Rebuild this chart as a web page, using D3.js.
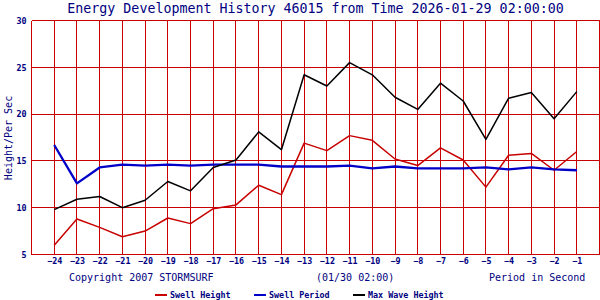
<!DOCTYPE html>
<html>
<head>
<meta charset="utf-8">
<script src="https://cdn.jsdelivr.net/npm/d3@7"></script>
<style>
  html, body { margin: 0; padding: 0; background: #fff; }
  text { font-family: "DejaVu Sans Mono", "Liberation Mono", monospace; fill: #000080; }
</style>
</head>
<body>
<div id="chart"></div>
<script>
// Data

const hours = [-24, -23, -22, -21, -20, -19, -18, -17, -16, -15, -14, -13, -12, -11, -10, -9, -8, -7, -6, -5, -4, -3, -2, -1]
const swellHeight = [6.0, 8.8, 7.9, 6.9, 7.5, 8.9, 8.3, 9.9, 10.3, 12.4, 11.4, 16.9, 16.1, 17.7, 17.2, 15.2, 14.5, 16.4, 15.1, 12.2, 15.6, 15.8, 14.0, 16.0]
const swellPeriod = [16.7, 12.6, 14.3, 14.6, 14.5, 14.6, 14.5, 14.6, 14.6, 14.6, 14.4, 14.4, 14.4, 14.5, 14.2, 14.4, 14.2, 14.2, 14.2, 14.3, 14.1, 14.3, 14.1, 14.0]
const maxWaveHeight = [9.8, 10.9, 11.2, 10.0, 10.8, 12.8, 11.8, 14.3, 15.1, 18.1, 16.2, 24.2, 23.0, 25.5, 24.2, 21.8, 20.5, 23.3, 21.4, 17.3, 21.7, 22.3, 19.5, 22.4]
const yTicks = [5, 10, 15, 20, 25, 30]

const series = [
  { name: 'Swell Height', values: swellHeight, color: '#c80000', width: 1.5 },
  { name: 'Swell Period', values: swellPeriod, color: '#0000c8', width: 2.3 },
  { name: 'Max Wave Height', values: maxWaveHeight, color: '#000000', width: 1.5 },
]

const W = 600
const H = 300
const GRID = '#c80000'

const x = d3.scaleLinear().domain([-25, 0]).range([31.5, 599.5])
const y = d3.scaleLinear().domain([5, 30]).range([254.5, 20.5])

// Container

const svg = d3.select('#chart').append('svg').attr('width', W).attr('height', H)

svg.append('rect').attr('width', W).attr('height', H).attr('fill', '#fff')

// Grid

const grid = svg.append('g').attr('shape-rendering', 'crispEdges')

grid
  .selectAll('line.v')
  .data(x.ticks(25))
  .join('line')
  .attr('class', 'v')
  .attr('x1', (d) => Math.round(x(d) - 0.5) + 0.5)
  .attr('x2', (d) => Math.round(x(d) - 0.5) + 0.5)
  .attr('y1', y(30))
  .attr('y2', y(5))
  .attr('stroke', GRID)

grid
  .selectAll('line.h')
  .data(yTicks)
  .join('line')
  .attr('class', 'h')
  .attr('x1', x(-25))
  .attr('x2', x(0))
  .attr('y1', (d) => Math.round(y(d) - 0.5) + 0.5)
  .attr('y2', (d) => Math.round(y(d) - 0.5) + 0.5)
  .attr('stroke', GRID)

// Axis labels

const axisBot = svg
  .append('g')
  .attr('transform', `translate(0,${y(5)})`)
  .call(d3.axisBottom(x).tickValues(hours).tickSize(0).tickPadding(4))

const axisLeft = svg
  .append('g')
  .attr('transform', `translate(${x(-25)},0)`)
  .call(d3.axisLeft(y).tickValues(yTicks).tickSize(0).tickPadding(5))

for (const axis of [axisBot, axisLeft]) {
  axis.select('.domain').remove()
  axis.attr('font-family', null).attr('font-size', null)
  axis.selectAll('text').attr('font-size', '8.4px').attr('fill', '#000080').attr('font-weight', 'bold')
}

// Lines

const line = (values) =>
  d3
    .line()
    .x((d, i) => x(hours[i]))
    .y((d) => y(d))(values)

svg
  .append('g')
  .selectAll('path')
  .data(series)
  .join('path')
  .attr('d', (d) => line(d.values))
  .attr('fill', 'none')
  .attr('stroke', (d) => d.color)
  .attr('stroke-width', (d) => d.width)
  .attr('stroke-linejoin', 'round')

// Texts

svg
  .append('text')
  .attr('x', 315.5)
  .attr('y', 13)
  .attr('text-anchor', 'middle')
  .attr('font-size', '13.3px')
  .text('Energy Development History 46015 from Time 2026-01-29 02:00:00')

svg
  .append('text')
  .attr('transform', 'translate(11.5,138) rotate(-90)')
  .attr('text-anchor', 'middle')
  .attr('font-size', '10px')
  .text('Height/Per Sec')

const footer = [
  { text: 'Copyright 2007 STORMSURF', at: 69 },
  { text: '(01/30 02:00)', at: 316 },
  { text: 'Period in Second', at: 489 },
]

svg
  .append('g')
  .selectAll('text')
  .data(footer)
  .join('text')
  .attr('x', (d) => d.at)
  .attr('y', 281)
  .attr('font-size', '10px')
  .text((d) => d.text)

// Legend

const legendAt = [155, 254, 353]

const legend = svg
  .append('g')
  .selectAll('g')
  .data(series)
  .join('g')
  .attr('transform', (d, i) => `translate(${legendAt[i]},295)`)

legend
  .append('line')
  .attr('x1', 0)
  .attr('x2', 12)
  .attr('stroke', (d) => d.color)
  .attr('stroke-width', 2)
  .attr('shape-rendering', 'crispEdges')

legend
  .append('text')
  .attr('x', 15)
  .attr('y', 3)
  .attr('font-size', '8.4px')
  .attr('font-weight', 'bold')
  .text((d) => d.name)
</script>
</body>
</html>
